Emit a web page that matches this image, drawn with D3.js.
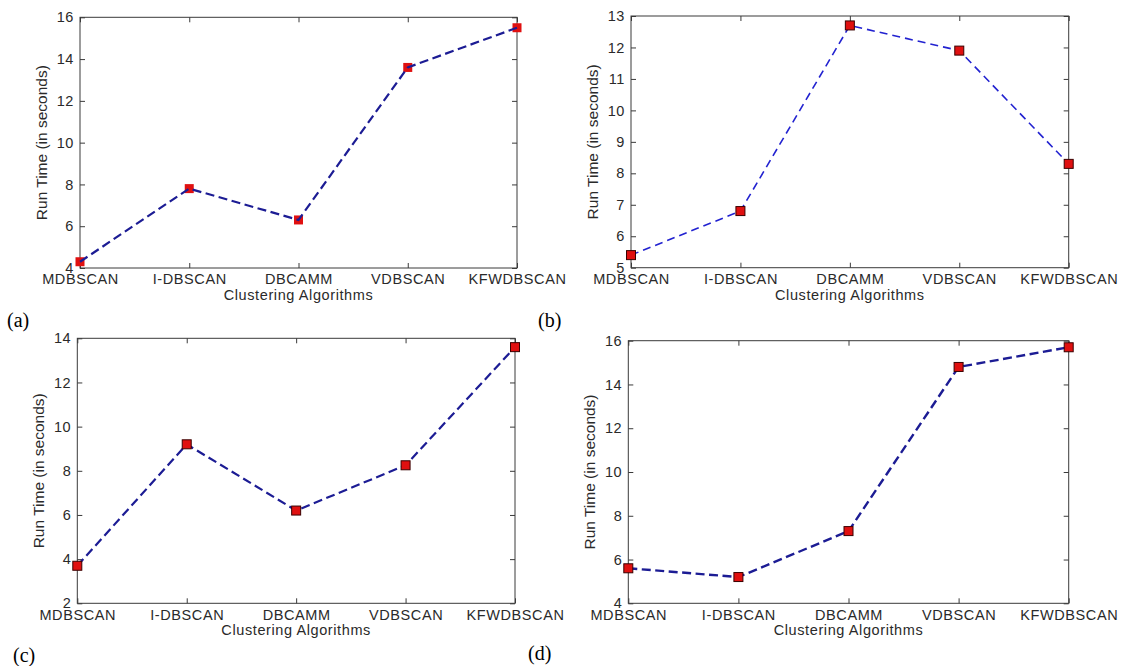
<!DOCTYPE html>
<html>
<head>
<meta charset="utf-8">
<script src="https://cdn.jsdelivr.net/npm/d3@7"></script>
<style>
  html, body { margin: 0; padding: 0; background: #fff; }
  svg { display: block; }
  .tick text { font-family: "Liberation Sans", Arial, sans-serif; font-size: 14.5px; fill: #2a2a2a; letter-spacing: 0.6px; }
  .lbl { font-family: "Liberation Sans", Arial, sans-serif; font-size: 14.5px; fill: #2a2a2a; letter-spacing: 0.6px; }
  .ylbl { font-family: "Liberation Sans", Arial, sans-serif; font-size: 15.5px; fill: #2a2a2a; }
  .plabel { font-family: "Liberation Serif", "Times New Roman", serif; font-size: 20px; fill: #000; }
</style>
</head>
<body>
<svg id="chart" width="1127" height="666"></svg>
<script>
// ---- data ----
const categories = ["MDBSCAN", "I-DBSCAN", "DBCAMM", "VDBSCAN", "KFWDBSCAN"];
const valuesA = [4.3, 7.8, 6.3, 13.6, 15.5];
const valuesB = [5.4, 6.8, 12.7, 11.9, 8.3];
const valuesC = [3.7, 9.2, 6.2, 8.25, 13.6];
const valuesD = [5.6, 5.2, 7.3, 14.8, 15.7];
const yTicksA = [4, 6, 8, 10, 12, 14, 16];
const yTicksB = [5, 6, 7, 8, 9, 10, 11, 12, 13];
const yTicksC = [2, 4, 6, 8, 10, 12, 14];
const yTicksD = [4, 6, 8, 10, 12, 14, 16];
const panelLabels = ["(a)", "(b)", "(c)", "(d)"];
const xTitle = "Clustering Algorithms";
const yTitle = "Run Time (in seconds)";

// ---- layout / style (not data) ----
const panels = [
  { values: valuesA, ticks: yTicksA, box: [80, 517, 17.3, 268], lab: [7, 327], lineColor: "#1c1c94", lw: 2.2, dash: "9,4.5", mStroke: "none" },
  { values: valuesB, ticks: yTicksB, box: [631, 1068.7, 16, 267.7], lab: [538, 327], lineColor: "#2222d0", lw: 1.6, dash: "8,5", mStroke: "#3a0000" },
  { values: valuesC, ticks: yTicksC, box: [77.3, 515, 338.3, 603.3], lab: [13, 662], lineColor: "#1c1c94", lw: 2.2, dash: "9,4.5", mStroke: "#3a0000" },
  { values: valuesD, ticks: yTicksD, box: [628.3, 1068.7, 340.7, 603.3], lab: [528, 660], lineColor: "#1c1c94", lw: 2.4, dash: "9,4.5", mStroke: "#3a0000" }
];

const svg = d3.select("#chart");

panels.forEach((p, i) => {
  const [x0, x1, y0, y1] = p.box;
  const x = d3.scalePoint().domain(categories).range([x0, x1]).padding(0);
  const y = d3.scaleLinear().domain([p.ticks[0], p.ticks[p.ticks.length - 1]]).range([y1, y0]);
  const g = svg.append("g");

  // bottom axis with labels (ticks inward)
  g.append("g").attr("transform", `translate(0,${y1})`)
    .call(d3.axisBottom(x).tickSizeInner(-5).tickSizeOuter(0).tickPadding(6));
  // top axis ticks
  g.append("g").attr("transform", `translate(0,${y0})`)
    .call(d3.axisTop(x).tickSizeInner(-5).tickSizeOuter(0).tickFormat(""));
  // left axis
  g.append("g").attr("transform", `translate(${x0},0)`)
    .call(d3.axisLeft(y).tickValues(p.ticks).tickSizeInner(-5).tickSizeOuter(0).tickPadding(6).tickFormat(d3.format("d")));
  // right axis ticks
  g.append("g").attr("transform", `translate(${x1},0)`)
    .call(d3.axisRight(y).tickValues(p.ticks).tickSizeInner(-5).tickSizeOuter(0).tickFormat(""));

  g.selectAll(".domain").remove();
  g.selectAll(".tick line").attr("stroke", "#3a3a3a");
  // box
  g.append("rect").attr("x", x0).attr("y", y0).attr("width", x1 - x0).attr("height", y1 - y0)
    .attr("fill", "none").attr("stroke", "#3a3a3a").attr("stroke-width", 1);

  // line + markers
  const line = d3.line().x((d, k) => x(categories[k])).y(d => y(d));
  const ms = 9;
  const drawMarkers = () => g.selectAll(null).data(p.values).enter().append("rect")
    .attr("x", (d, k) => x(categories[k]) - ms / 2)
    .attr("y", d => y(d) - ms / 2)
    .attr("width", ms).attr("height", ms)
    .attr("fill", "#e01010")
    .attr("stroke", p.mStroke).attr("stroke-width", 1);
  const drawLine = () => g.append("path").datum(p.values).attr("d", line)
    .attr("fill", "none").attr("stroke", p.lineColor).attr("stroke-width", p.lw)
    .attr("stroke-dasharray", p.dash);
  if (i === 0) { drawMarkers(); drawLine(); } else { drawLine(); drawMarkers(); }

  // x title
  g.append("text").attr("class", "lbl")
    .attr("x", (x0 + x1) / 2).attr("y", y1 + 32)
    .attr("text-anchor", "middle").text(xTitle);
  // y title
  g.append("text").attr("class", "ylbl")
    .attr("transform", `translate(${x0 - 33},${(y0 + y1) / 2}) rotate(-90)`)
    .attr("text-anchor", "middle").text(yTitle);
  // panel label
  g.append("text").attr("class", "plabel")
    .attr("x", p.lab[0]).attr("y", p.lab[1])
    .text(panelLabels[i]);
});
</script>
</body>
</html>
